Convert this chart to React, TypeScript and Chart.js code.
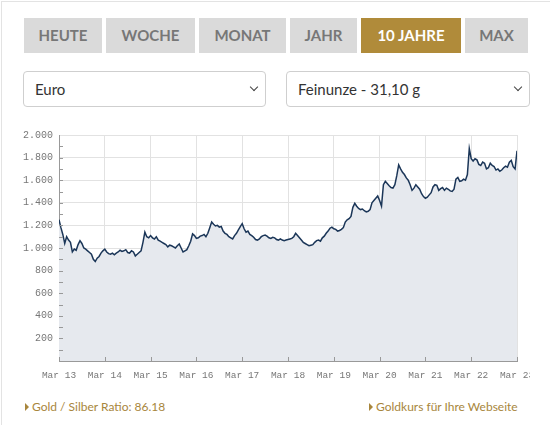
import React, { useEffect, useRef } from 'react';
import { Chart, registerables } from 'chart.js';

Chart.register(...registerables);

// ---- content ----
const RANGE_BUTTONS = ['HEUTE', 'WOCHE', 'MONAT', 'JAHR', '10 JAHRE', 'MAX'];
const ACTIVE_RANGE = '10 JAHRE';
const CURRENCY_LABEL = 'Euro';
const UNIT_LABEL = 'Feinunze - 31,10 g';
const RATIO_LABEL = 'Gold / Silber Ratio: 86.18';
const WIDGET_LABEL = 'Goldkurs für Ihre Webseite';

// x axis: months since Mar 2013; tick every 12 months labelled "Mar YY"
const FIRST_YEAR = 13;
const X_TICK_MONTHS = [0, 12, 24, 36, 48, 60, 72, 84, 96, 108, 120];
// y axis tick labels (every 200), minor marks every 100
const Y_LABELS = [200, 400, 600, 800, 1000, 1200, 1400, 1600, 1800, 2000];

// half-monthly gold price in EUR per troy ounce, Mar 2013 -> Mar 2023
const PRICES_13 = [1250, 1180, 1120, 1040, 1100, 1070, 1050, 965, 990, 980, 1030, 1065, 1040, 1000, 990, 975, 960, 945, 900, 880, 910, 925, 955, 975];
const PRICES_14 = [990, 965, 950, 945, 955, 940, 955, 965, 980, 970, 975, 985, 960, 955, 975, 965, 930, 945, 960, 975, 1050, 1140, 1100, 1090];
const PRICES_15 = [1110, 1090, 1080, 1100, 1070, 1060, 1050, 1040, 1030, 1010, 1025, 1020, 1010, 1000, 1020, 1035, 1000, 965, 975, 985, 1020, 1060, 1125, 1110];
const PRICES_16 = [1085, 1090, 1105, 1110, 1120, 1100, 1130, 1180, 1230, 1210, 1195, 1200, 1185, 1190, 1150, 1130, 1120, 1100, 1090, 1080, 1110, 1130, 1160, 1190];
const PRICES_17 = [1215, 1170, 1140, 1150, 1120, 1110, 1095, 1075, 1070, 1080, 1100, 1110, 1115, 1105, 1090, 1085, 1095, 1090, 1075, 1070, 1080, 1070, 1065, 1070];
const PRICES_18 = [1075, 1080, 1085, 1100, 1130, 1110, 1090, 1070, 1050, 1040, 1030, 1020, 1025, 1030, 1050, 1065, 1070, 1060, 1090, 1105, 1130, 1150, 1175, 1185];
const PRICES_19 = [1170, 1165, 1150, 1155, 1165, 1180, 1230, 1250, 1260, 1280, 1360, 1395, 1370, 1350, 1340, 1345, 1330, 1320, 1325, 1340, 1400, 1420, 1440, 1460];
const PRICES_20 = [1420, 1370, 1560, 1590, 1570, 1550, 1535, 1530, 1560, 1640, 1735, 1700, 1670, 1650, 1620, 1600, 1560, 1510, 1530, 1560, 1540, 1520, 1480, 1455];
const PRICES_21 = [1440, 1450, 1470, 1490, 1540, 1560, 1555, 1510, 1525, 1535, 1510, 1530, 1520, 1505, 1500, 1520, 1610, 1625, 1590, 1595, 1610, 1600, 1650, 1880];
const PRICES_22 = [1790, 1770, 1790, 1780, 1740, 1730, 1760, 1750, 1700, 1710, 1750, 1730, 1720, 1690, 1700, 1680, 1690, 1710, 1725, 1715, 1760, 1775, 1720, 1700];
const PRICES_23 = [1860];

const PRICES = [
  ...PRICES_13, ...PRICES_14, ...PRICES_15, ...PRICES_16, ...PRICES_17,
  ...PRICES_18, ...PRICES_19, ...PRICES_20, ...PRICES_21, ...PRICES_22, ...PRICES_23,
];

const GOLD = '#a8863c';
const LABEL_FONT = "'Lato', 'Open Sans', sans-serif";

function formatThousands(v: number): string {
  if (v >= 1000) return `${Math.floor(v / 1000)}.${String(v % 1000).padStart(3, '0')}`;
  return String(v);
}

const innerTicks = {
  id: 'innerTicks',
  afterDraw(chart: any) {
    const { ctx, chartArea, scales } = chart;
    ctx.save();
    ctx.strokeStyle = '#999';
    ctx.lineWidth = 1;
    ctx.beginPath();
    for (let v = 100; v < 2000; v += 100) {
      const y = Math.round(scales.y.getPixelForValue(v)) + 0.5;
      ctx.moveTo(chartArea.left, y);
      ctx.lineTo(chartArea.left + 4, y);
    }
    for (const m of X_TICK_MONTHS) {
      const x = Math.round(scales.x.getPixelForValue(m)) + 0.5;
      ctx.moveTo(x, chartArea.bottom);
      ctx.lineTo(x, chartArea.bottom - 4);
    }
    ctx.stroke();
    ctx.restore();
  },
};

function PriceChart() {
  const ref = useRef<HTMLCanvasElement | null>(null);
  useEffect(() => {
    if (!ref.current) return;
    const points = PRICES.map((p, i) => ({ x: i * 0.5, y: p }));
    const chart = new Chart(ref.current, {
      type: 'line',
      data: {
        datasets: [
          {
            data: points,
            borderColor: '#1b3658',
            borderWidth: 1.5,
            backgroundColor: '#e6e9ee',
            fill: 'origin',
            pointRadius: 0,
            tension: 0,
          },
        ],
      },
      options: {
        animation: false,
        responsive: false,
        events: [],
        layout: { padding: { top: 10, right: 13, left: 0, bottom: 0 } },
        plugins: { legend: { display: false }, tooltip: { enabled: false } },
        scales: {
          x: {
            type: 'linear',
            min: 0,
            max: 120,
            afterBuildTicks: (s: any) => {
              s.ticks = X_TICK_MONTHS.map((v) => ({ value: v }));
            },
            afterFit: (s: any) => {
              s.height = 29;
              s.paddingLeft = 0;
              s.paddingRight = 0;
            },
            ticks: {
              autoSkip: false,
              maxRotation: 0,
              padding: 9,
              color: '#777',
              font: { family: "'Liberation Mono', 'DejaVu Sans Mono', monospace", size: 9.5 },
              callback: (v: any) => `Mar ${FIRST_YEAR + Number(v) / 12}`,
            },
            grid: { color: '#e2e2e2', drawTicks: false },
            border: { color: '#999' },
          },
          y: {
            type: 'linear',
            min: 0,
            max: 2000,
            afterBuildTicks: (s: any) => {
              s.ticks = [0, ...Y_LABELS].map((v) => ({ value: v }));
            },
            afterFit: (s: any) => {
              s.width = 45;
              s.paddingTop = 0;
              s.paddingBottom = 0;
            },
            ticks: {
              padding: 6,
              color: '#777',
              font: { family: "'Liberation Mono', 'DejaVu Sans Mono', monospace", size: 10 },
              callback: (v: any) => (Number(v) > 0 ? formatThousands(Number(v)) : ''),
            },
            grid: { color: '#e2e2e2', drawTicks: false },
            border: { color: '#999' },
          },
        },
      },
      plugins: [innerTicks],
    } as any);
    return () => chart.destroy();
  }, []);
  return (
    <canvas
      ref={ref}
      width={516}
      height={265}
      style={{ position: 'absolute', left: 14, top: 125, width: 516, height: 265 }}
    />
  );
}

const BUTTON_GEOM = [
  { x: 24, w: 78 },
  { x: 106, w: 89 },
  { x: 199, w: 87 },
  { x: 290, w: 67 },
  { x: 361, w: 100 },
  { x: 465, w: 63 },
];

const SELECT_TOP = 71;
const SELECT_H = 36;

function Chevron({ x }: { x: number }) {
  return (
    <div
      style={{
        position: 'absolute',
        left: x,
        top: SELECT_TOP + SELECT_H / 2 - 5,
        width: 5,
        height: 5,
        borderRight: '1.5px solid #444',
        borderBottom: '1.5px solid #444',
        transform: 'rotate(45deg)',
      }}
    />
  );
}

function Select({ x, w, label }: { x: number; w: number; label: string }) {
  return (
    <div
      style={{
        position: 'absolute',
        left: x,
        top: SELECT_TOP,
        width: w,
        height: SELECT_H,
        boxSizing: 'border-box',
        border: '1px solid #cfcfcf',
        borderRadius: 4,
        background: '#fff',
        fontFamily: LABEL_FONT,
        fontSize: 15,
        color: '#333',
        lineHeight: `${SELECT_H - 2}px`,
        paddingLeft: 11,
      }}
    >
      {label}
    </div>
  );
}

function Link({ x, label }: { x: number; label: string }) {
  return (
    <div
      style={{
        position: 'absolute',
        left: x,
        top: 398,
        height: 18,
        lineHeight: '18px',
        fontFamily: LABEL_FONT,
        fontSize: 12,
        color: GOLD,
        whiteSpace: 'nowrap',
        display: 'flex',
        alignItems: 'center',
      }}
    >
      <span
        style={{
          display: 'inline-block',
          width: 0,
          height: 0,
          borderTop: '4px solid transparent',
          borderBottom: '4px solid transparent',
          borderLeft: `4px solid ${GOLD}`,
          marginRight: 3,
        }}
      />
      {label}
    </div>
  );
}

export default function App() {
  return (
    <div
      style={{
        position: 'absolute',
        left: 0,
        top: 0,
        width: 550,
        height: 425,
        overflow: 'hidden',
        background: '#fff',
      }}
    >
      <div
        style={{
          position: 'absolute',
          left: 1,
          top: 1,
          width: 620,
          height: 520,
          border: '1px solid #e3e3e3',
        }}
      />
      {RANGE_BUTTONS.map((b, i) => {
        const active = b === ACTIVE_RANGE;
        return (
          <div
            key={b}
            style={{
              position: 'absolute',
              left: BUTTON_GEOM[i].x,
              top: 18,
              width: BUTTON_GEOM[i].w,
              height: 35,
              background: active ? '#b08b3a' : '#dadada',
              color: active ? '#fff' : '#777',
              fontFamily: LABEL_FONT,
              fontWeight: 700,
              fontSize: 15,
              lineHeight: '35px',
              textAlign: 'center',
            }}
          >
            {b}
          </div>
        );
      })}
      <Select x={23} w={243} label={CURRENCY_LABEL} />
      <Select x={286} w={244} label={UNIT_LABEL} />
      <Chevron x={251} />
      <Chevron x={515} />
      <PriceChart />
      <Link x={25} label={RATIO_LABEL} />
      <Link x={369} label={WIDGET_LABEL} />
    </div>
  );
}
